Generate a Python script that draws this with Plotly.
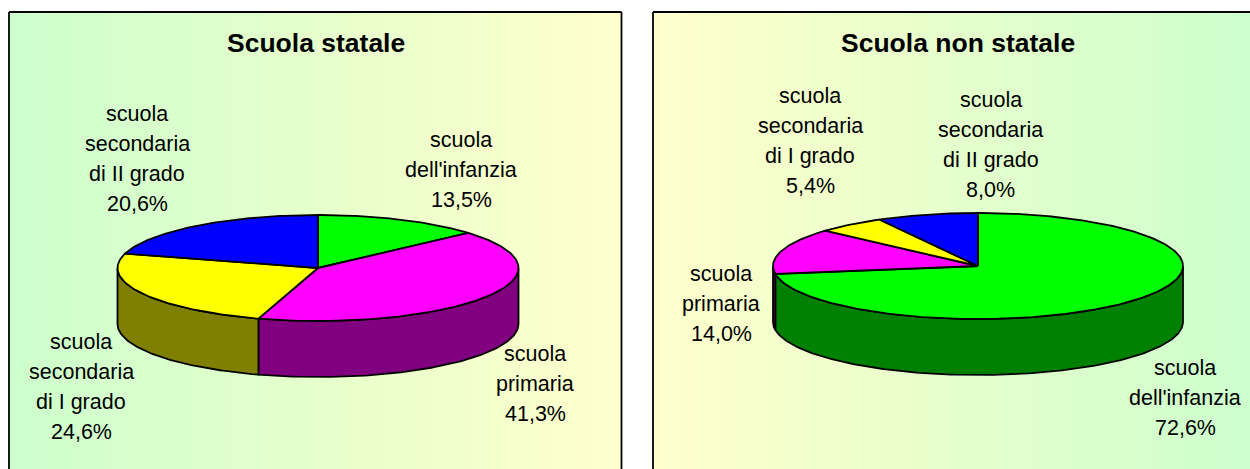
import numpy as np
import plotly.graph_objects as go

# ---- data ----
categories = ["scuola dell'infanzia", "scuola primaria", "scuola secondaria di I grado", "scuola secondaria di II grado"]
statale = [13.5, 41.3, 24.6, 20.6]
non_statale = [72.6, 14.0, 5.4, 8.0]
titles = ["Scuola statale", "Scuola non statale"]
top_colors = ["#00FF00", "#FF00FF", "#FFFF00", "#0000FF"]
side_colors = ["#008000", "#800080", "#808000", "#000080"]
label_lines = [["scuola", "dell'infanzia"], ["scuola", "primaria"],
               ["scuola", "secondaria", "di I grado"], ["scuola", "secondaria", "di II grado"]]

W, H = 1250, 469
GREEN = "#CCFFCC"
YELLOW = "#FFFFCC"

panels = [
    dict(values=statale, x0=9, x1=621.5, cx=318, cy=268, rx=200.5, ry=53, depth=56,
         grad=[GREEN, YELLOW], title_x=316,
         labels=[(461, 140), (535, 354), (81, 342), (137, 114)]),
    dict(values=non_statale, x0=653, x1=1250, cx=978, cy=266, rx=205, ry=53, depth=56,
         grad=[YELLOW, GREEN], title_x=958,
         labels=[(1185, 368), (721, 274), (810, 96), (991, 100)]),
]
TOP = 12

fig = go.Figure()
annotations = []
shapes = []
layout_axes = {}


def arc(a0, a1):
    n = max(2, int(abs(a1 - a0) / (np.pi / 180)) + 2)
    t = np.linspace(a0, a1, n)
    return np.sin(t), np.cos(t)


for i, p in enumerate(panels):
    sfx = "" if i == 0 else "2"
    xa, ya = f"x{sfx}", f"y{sfx}"
    # axes: one unit equals one pie radius, horizontally and vertically
    layout_axes[f"xaxis{sfx}"] = dict(domain=[p["x0"] / W, p["x1"] / W],
                                      range=[(p["x0"] - p["cx"]) / p["rx"], (p["x1"] - p["cx"]) / p["rx"]],
                                      visible=False, fixedrange=True)
    layout_axes[f"yaxis{sfx}"] = dict(domain=[0, 1 - TOP / H],
                                      range=[(p["cy"] - H) / p["ry"], (p["cy"] - TOP) / p["ry"]],
                                      visible=False, fixedrange=True)
    # background gradient
    xs = np.linspace((p["x0"] - p["cx"]) / p["rx"], (p["x1"] - p["cx"]) / p["rx"], 40)
    fig.add_trace(go.Heatmap(x=xs, y=[(p["cy"] - H) / p["ry"], (p["cy"] - TOP) / p["ry"]],
                             z=[list(range(40))] * 2, zsmooth="best",
                             colorscale=[[0, p["grad"][0]], [1, p["grad"][1]]],
                             showscale=False, hoverinfo="skip", xaxis=xa, yaxis=ya))
    h = p["depth"] / p["ry"]
    fracs = np.cumsum([0] + p["values"]) / 100 * 2 * np.pi
    line = dict(color="black", width=1.8)
    # side walls (only the front half of the disc, pi/2 .. 3pi/2)
    for k in range(4):
        a0 = max(fracs[k], np.pi / 2)
        a1 = min(fracs[k + 1], 3 * np.pi / 2)
        if a1 <= a0:
            continue
        sx, sy = arc(a0, a1)
        fig.add_trace(go.Scatter(x=np.r_[sx, sx[::-1], sx[0]], y=np.r_[sy, sy[::-1] - h, sy[0]],
                                 mode="lines", fill="toself", fillcolor=side_colors[k], line=line,
                                 hoverinfo="skip", showlegend=False, xaxis=xa, yaxis=ya))
    # top faces
    for k in range(4):
        sx, sy = arc(fracs[k], fracs[k + 1])
        fig.add_trace(go.Scatter(x=np.r_[0, sx, 0], y=np.r_[0, sy, 0],
                                 mode="lines", fill="toself", fillcolor=top_colors[k], line=line,
                                 name=categories[k], hoverinfo="name+text", text=f"{p['values'][k]:.1f}%",
                                 showlegend=False, xaxis=xa, yaxis=ya))
    # panel border: top, left, right
    border = dict(color="black", width=1.8)
    shapes.append(dict(type="line", xref="paper", yref="paper", x0=p["x0"] / W, x1=min(p["x1"], W) / W,
                       y0=1 - TOP / H, y1=1 - TOP / H, line=border))
    shapes.append(dict(type="line", xref="paper", yref="paper", x0=p["x0"] / W, x1=p["x0"] / W,
                       y0=0, y1=1 - TOP / H, line=border))
    if p["x1"] < W:
        shapes.append(dict(type="line", xref="paper", yref="paper", x0=p["x1"] / W, x1=p["x1"] / W,
                           y0=0, y1=1 - TOP / H, line=border))
    annotations.append(dict(text=f"<b>{titles[i]}</b>", xref="paper", yref="paper", x=p["title_x"] / W,
                            y=1 - 43 / H, showarrow=False, xanchor="center", yanchor="middle",
                            font=dict(family="Liberation Sans, Arial", size=26.5, color="black")))
    for k, (lx, ly) in enumerate(p["labels"]):
        lines = label_lines[k] + [f"{p['values'][k]:.1f}%".replace(".", ",")]
        for j, t in enumerate(lines):
            annotations.append(dict(text=t, xref="paper", yref="paper", x=lx / W, y=1 - (ly + 30 * j) / H,
                                    showarrow=False, xanchor="center", yanchor="middle",
                                    font=dict(family="Liberation Sans, Arial", size=21.5, color="black")))

fig.update_layout(width=W, height=H, margin=dict(l=0, r=0, t=0, b=0), paper_bgcolor="white",
                  plot_bgcolor="rgba(0,0,0,0)", showlegend=False, annotations=annotations, shapes=shapes,
                  **layout_axes)
fig.write_html("out.html", config={"displayModeBar": False},
               post_script="document.body.style.margin='0';document.body.style.overflow='hidden';")
